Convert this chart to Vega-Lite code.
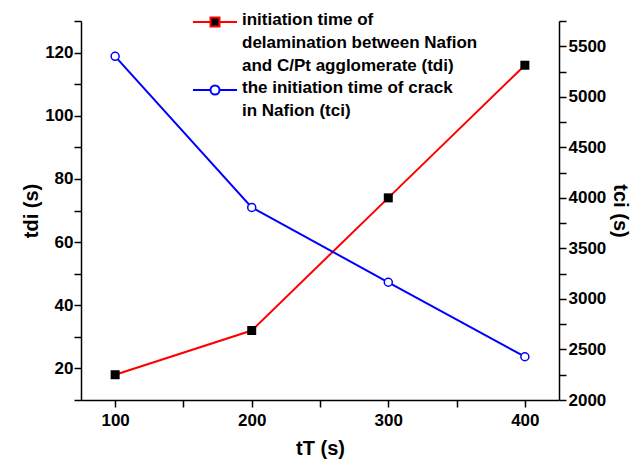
{
  "$schema": "https://vega.github.io/schema/vega-lite/v6.json",
  "width": 478,
  "height": 379,
  "autosize": {"type": "none"},
  "padding": {"left": 81, "top": 21, "right": 81, "bottom": 67},
  "background": "white",
  "config": {
    "view": {"stroke": null},
    "font": "Liberation Sans",
    "axis": {
      "grid": false,
      "domainColor": "black",
      "domainWidth": 1.5,
      "tickColor": "black",
      "tickWidth": 1.5,
      "tickSize": 7,
      "labelFont": "Liberation Sans",
      "labelFontSize": 17,
      "labelFontWeight": "bold",
      "labelColor": "black",
      "titleFont": "Liberation Sans",
      "titleFontSize": 20,
      "titleFontWeight": "bold",
      "titleColor": "black"
    }
  },
  "data": {
    "values": [
      {"tT": 100, "series": "di", "v": 18},
      {"tT": 200, "series": "di", "v": 32},
      {"tT": 300, "series": "di", "v": 74},
      {"tT": 400, "series": "di", "v": 116},
      {"tT": 100, "series": "ci", "v": 5400},
      {"tT": 200, "series": "ci", "v": 3905},
      {"tT": 300, "series": "ci", "v": 3165},
      {"tT": 400, "series": "ci", "v": 2428}
    ]
  },
  "encoding": {
    "x": {
      "field": "tT",
      "type": "quantitative",
      "scale": {"domain": [75, 425], "nice": false, "zero": false},
      "axis": {
        "orient": "bottom",
        "values": [100, 150, 200, 250, 300, 350, 400],
        "labelExpr": "datum.value % 100 == 0 ? datum.label : ''",
        "labelPadding": 5,
        "title": "tT (s)",
        "titlePadding": 10,
        "encode": {"ticks": {"update": {"y2": {"signal": "datum.value % 100 == 0 ? 7 : 4"}}}}
      }
    }
  },
  "layer": [
    {
      "transform": [{"filter": "datum.series == 'di'"}],
      "encoding": {
        "y": {
          "field": "v",
          "type": "quantitative",
          "scale": {"domain": [10, 130], "nice": false, "zero": false},
          "axis": {
            "orient": "left",
            "values": [10, 20, 30, 40, 50, 60, 70, 80, 90, 100, 110, 120, 130],
            "labelExpr": "datum.value % 20 == 0 ? datum.label : ''",
            "labelPadding": 1,
            "title": "tdi (s)",
            "titlePadding": 3,
            "encode": {"ticks": {"update": {"x2": {"signal": "datum.value % 20 == 0 ? -7 : -4"}}}}
          }
        }
      },
      "layer": [
        {
          "mark": {"type": "line", "strokeWidth": 2},
          "encoding": {
            "color": {
              "field": "series",
              "type": "nominal",
              "scale": {"domain": ["di", "ci"], "range": ["#ff0000", "#0000ff"]},
              "legend": {
                "orient": "none",
                "legendX": 118,
                "legendY": -15,
                "title": null,
                "symbolSize": 900,
                "symbolStrokeWidth": 2,
                "labelFont": "Liberation Sans",
                "labelFontSize": 17,
                "labelFontWeight": "bold",
                "labelColor": "black",
                "labelBaseline": "top",
                "labelOffset": 11,
                "labelLimit": 400,
                "rowPadding": 0,
                "labelExpr": "datum.value == 'di' ? ['initiation time of', 'delamination between Nafion', 'and C/Pt agglomerate (tdi)'] : ['the initiation time of crack', ' in Nafion (tci)']",
                "encode": {
                  "symbols": {
                    "update": {
                      "shape": {"signal": "datum.value == 'di' ? 'M-1.47,0L-0.3,0L-0.3,-0.3L0.3,-0.3L0.3,0L1.47,0L0.3,0L0.3,0.3L-0.3,0.3L-0.3,0Z' : 'M-1.47,0L-0.3,0A0.3,0.3 0 1,1 0.3,0L1.47,0L0.3,0A0.3,0.3 0 1,1 -0.3,0Z'"},
                      "fill": {"signal": "datum.value == 'di' ? 'black' : 'white'"},
                      "fillOpacity": {"value": 1},
                      "strokeWidth": {"value": 2}
                    }
                  },
                  "labels": {"update": {"dy": {"value": -10}, "lineHeight": {"value": 23}}}
                }
              }
            }
          }
        },
        {
          "mark": {"type": "point", "shape": "square", "filled": true, "color": "black", "size": 81, "opacity": 1}
        }
      ]
    },
    {
      "transform": [{"filter": "datum.series == 'ci'"}],
      "encoding": {
        "y": {
          "field": "v",
          "type": "quantitative",
          "scale": {"domain": [2000, 5750], "nice": false, "zero": false},
          "axis": {
            "orient": "right",
            "values": [2000, 2250, 2500, 2750, 3000, 3250, 3500, 3750, 4000, 4250, 4500, 4750, 5000, 5250, 5500, 5750],
            "labelExpr": "datum.value % 500 == 0 ? datum.label : ''",
            "labelPadding": 2,
            "format": "d",
            "title": "tci (s)",
            "titlePadding": 4,
            "encode": {"ticks": {"update": {"x2": {"signal": "datum.value % 500 == 0 ? 7 : 4"}}}}
          }
        }
      },
      "layer": [
        {
          "mark": {"type": "line", "strokeWidth": 2},
          "encoding": {
            "color": {"field": "series", "type": "nominal"}
          }
        },
        {
          "mark": {"type": "point", "shape": "circle", "filled": false, "fill": "white", "fillOpacity": 1, "stroke": "#0000ff", "strokeWidth": 1.5, "size": 64, "opacity": 1}
        }
      ]
    }
  ],
  "resolve": {"scale": {"y": "independent"}}
}
